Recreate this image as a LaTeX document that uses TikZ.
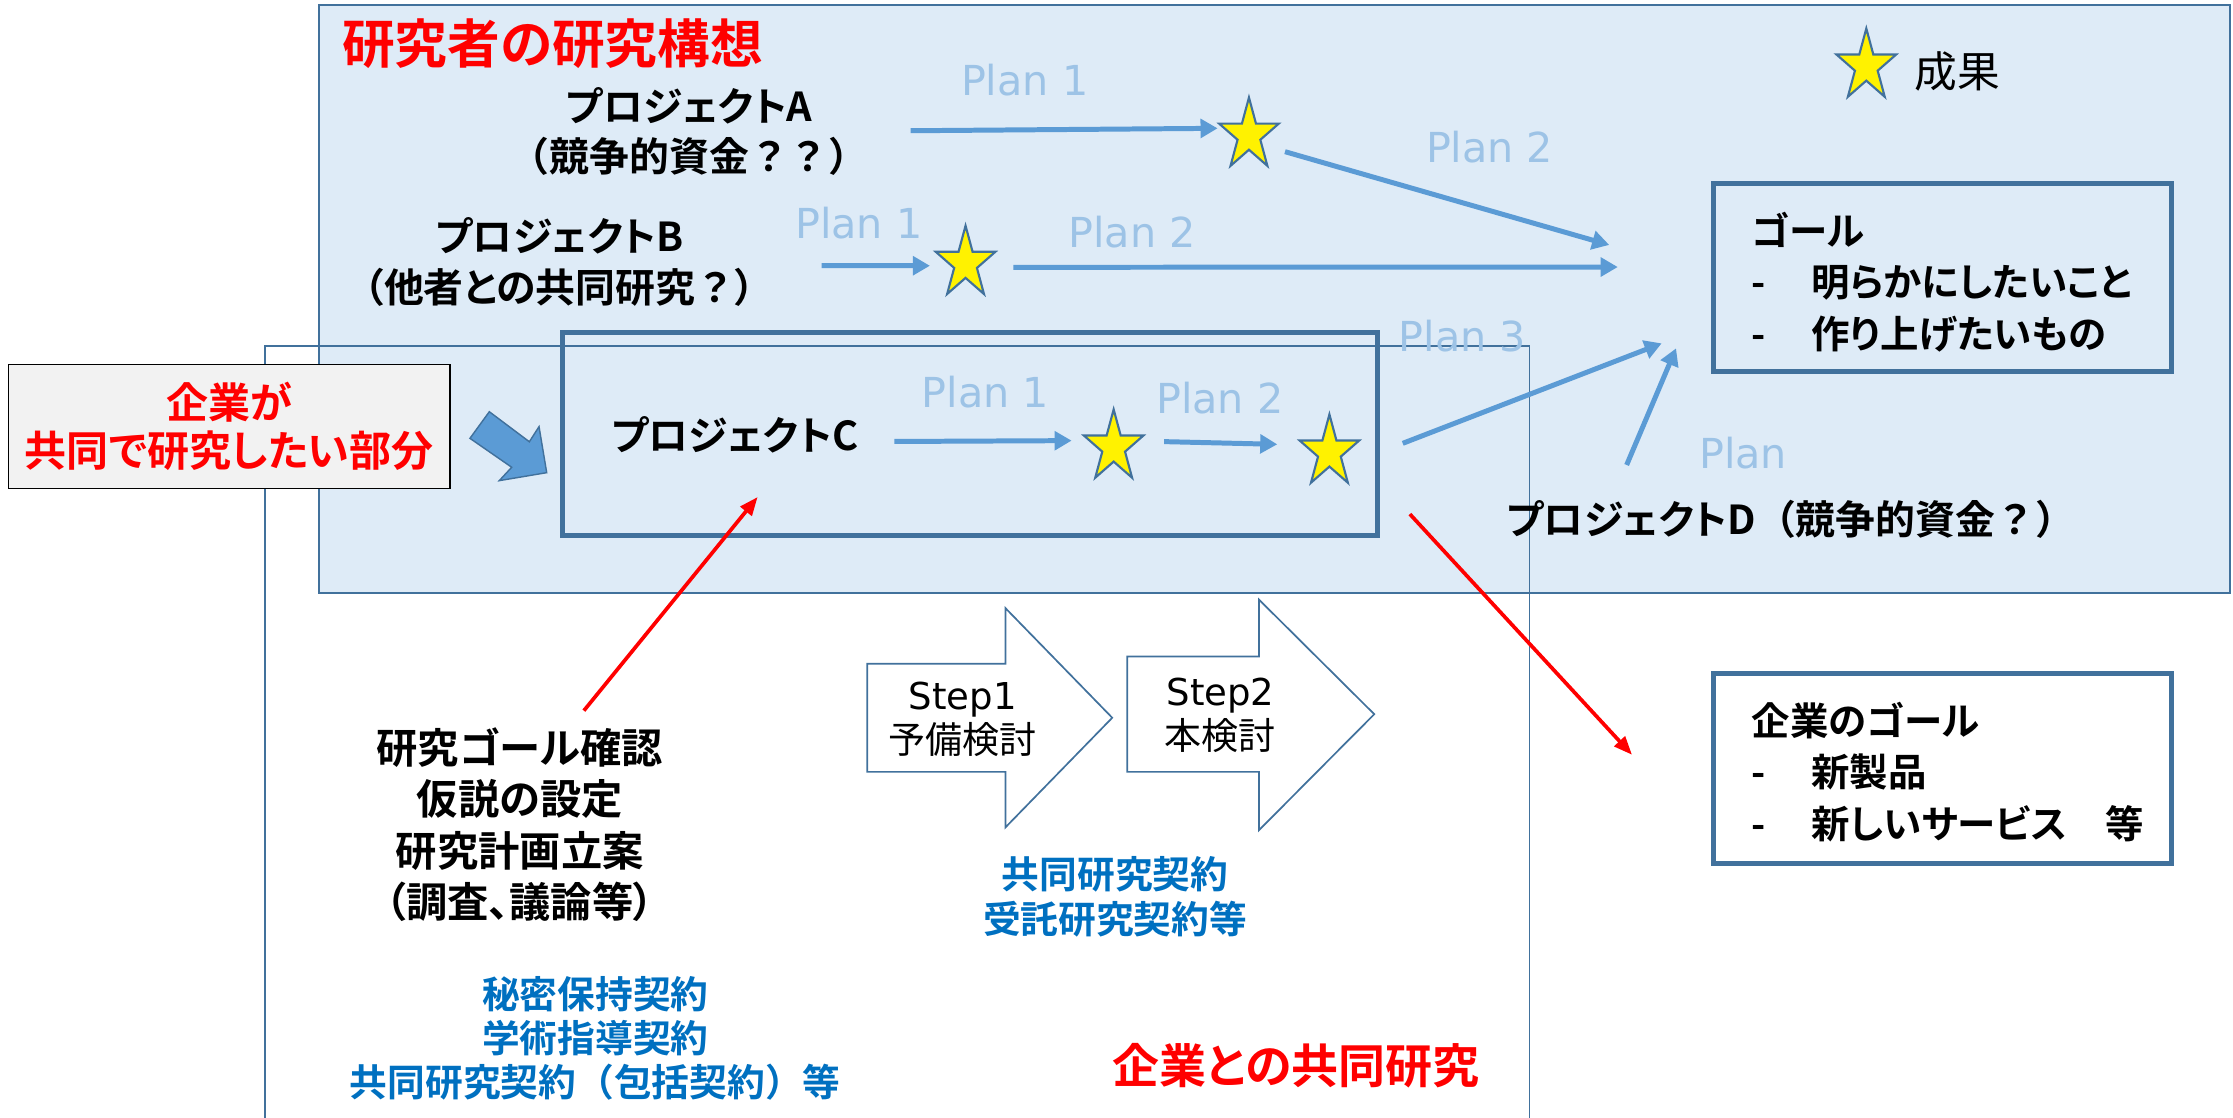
\documentclass[tikz,border=0pt]{standalone}
\usepackage{fontspec}
\usetikzlibrary{arrows.meta,shapes.geometric,calc}
\newfontfamily\jp{Noto Sans CJK JP}[BoldFont={Noto Sans CJK JP Bold},RawFeature=+palt]
\newfontfamily\jpf{Noto Sans CJK JP}[BoldFont={Noto Sans CJK JP Bold}]
\newfontfamily\lat{DejaVu Sans}
\definecolor{bgblue}{HTML}{DEEBF7}
\definecolor{edge}{HTML}{41719C}
\definecolor{arr}{HTML}{5B9BD5}
\definecolor{planc}{HTML}{9DC3E6}
\definecolor{cblue}{HTML}{0070C0}
\definecolor{lgray}{HTML}{F2F2F2}
\newcommand\fsz[2]{\fontsize{#1}{#2}\selectfont}
\begin{document}
\begin{tikzpicture}[x=1pt,y=-1pt,
  every node/.style={inner sep=0pt,outer sep=0pt},
  mystar/.style={star,star points=5,star point ratio=2.618,minimum size=53pt,
     fill=yellow,draw=edge,line width=1.5pt,xscale=0.83},
  flow/.style={draw=arr,line width=3.5pt,-{Triangle[length=12pt,width=13pt]}},
  redflow/.style={draw=red,line width=2.6pt,-{Triangle[length=13pt,width=10pt]}},
  plan/.style={text=planc,font=\lat\fsz{29}{34}},
  blk/.style 2 args={font=\jp\bfseries\fsz{#1}{#2}},
  frame/.style={draw=edge,line width=3.5pt},
  steparrow/.style={draw=edge,line width=1.2pt,fill=white},
]
\useasboundingbox (0,0) rectangle (1568,785);
% researcher's plan area
\node[draw=edge,fill=bgblue,line width=1.2pt,minimum width=1342pt,minimum height=413pt,anchor=north west] (plan) at (224,3.5) {};
% company joint research frame (open at bottom)
\draw[edge,line width=1pt] (186,790) -- (186,243) -- (1074,243) -- (1074,790);
% project C frame
\node[frame,minimum width=572pt,minimum height=142pt] (pc) at (681,304.8) {};
% goal boxes
\node[frame,minimum width=322pt,minimum height=132pt] (goal) at (1364,195) {};
\node[frame,fill=white,minimum width=322pt,minimum height=133pt] (cgoal) at (1364,539.5) {};

% title
\node[text=red,blk={37}{40}] (title) at (388,31) {研究者の研究構想};
% legend
\node[mystar] (sL) at (1310.5,46.5) {};
\node[font=\jp\fsz{30}{34}] (legend) at (1374.5,50) {成果};

% projects
\node[blk={28}{35},align=center] (pa) at (484,92.5) {プロジェクトA\\{\jpf\bfseries（競争的資金？？）}};
\node[blk={28}{36},align=center] (pb) at (393,184) {プロジェクトB\\（他者との共同研究{\jpf\bfseries ？}）};
\node[blk={28}{34}] (pctext) at (516,305) {プロジェクトC};
\node[blk={28}{34}] (pd) at (1257.5,365) {プロジェクトD{\jpf\bfseries（競争的資金？）}};

% stars
\node[mystar] (sA1) at (877,95) {};
\node[mystar] (sB) at (678,185) {};
\node[mystar] (sC1) at (782,314) {};
\node[mystar] (sC2) at (933.5,317.5) {};

% plan labels
\node[plan] (p1a) at (719.5,56.5) {Plan 1};
\node[plan] (p2a) at (1046,103) {Plan 2};
\node[plan] (p1b) at (603,156.5) {Plan 1};
\node[plan] (p2b) at (795,162.7) {Plan 2};
\node[plan] (p1c) at (692,275.5) {Plan 1};
\node[plan] (p2c) at (856.6,279.6) {Plan 2};
\node[plan] (p3c) at (1027,236) {Plan 3};
\node[plan] (pdl) at (1224,318) {Plan};

% free ends
\coordinate (a1s) at (639.5,91.8);
\coordinate (b1s) at (577,186.5);
\coordinate (c1s) at (628,310);
\coordinate (gA) at (1130,172);
\coordinate (gB) at (1136,187.5);
\coordinate (gC) at (1166.8,241.1);
\coordinate (gD) at (1176.9,244.6);
\coordinate (dS) at (1142.2,326.5);

% plan arrows
\draw[flow] (a1s) -- ($(sA1)+(-22,-4.9)$);
\draw[flow] ($(sA1)+(25.3,11.5)$) -- (gA);
\draw[flow] (b1s) -- ($(sB)+(-25,1.6)$);
\draw[flow] ($(sB)+(33.6,2.7)$) -- (gB);
\draw[flow] (c1s) -- ($(sC1)+(-29.5,-4.6)$);
\draw[flow] ($(sC1)+(35.4,-3.9)$) -- ($(sC2)+(-36.6,-5.5)$);
\draw[flow] ($(sC2)+(51.5,-6.2)$) -- (gC);
\draw[flow] (dS) -- (gD);

% goal text
\node[blk={27}{36},align=left,anchor=west] (goaltxt) at (1230,198)
  {ゴール\\\makebox[42pt][l]{-}明らかにしたいこと\\\makebox[42pt][l]{-}作り上げたいもの};
\node[blk={27}{36},align=left,anchor=west] (cgoaltxt) at (1230,542)
  {企業のゴール\\\makebox[42pt][l]{-}新製品\\\makebox[42pt][l]{-}新しいサービス　等};

% company box
\node[draw=black,fill=lgray,line width=1.2pt,minimum width=310pt,minimum height=87pt,
  align=center,text=red,blk={29.5}{34}] (kigyo) at (161,299.5) {企業が\\共同で研究したい部分};
% block arrow into project C
\filldraw[fill=arr,draw=edge,line width=1pt]
  (343.6,289.1) -- (371.7,310.2) -- (378.5,299.6) -- (383.9,331.9) -- (350.6,337.5) -- (359.3,328.1) -- (330.0,307.8) -- cycle;

% step arrows
\filldraw[steparrow] (609,466) -- (706,466) -- (706,427) -- (781,504) -- (706,581) -- (706,542) -- (609,542) -- cycle;
\filldraw[steparrow] (791.5,461) -- (884,461) -- (884,421) -- (965,501.5) -- (884,583) -- (884,542) -- (791.5,542) -- cycle;
\node[align=center,font=\jp\fsz{26}{31}] (st1) at (676,505) {{\lat Step1}\\予備検討};
\node[align=center,font=\jp\fsz{26}{31}] (st2) at (857,502.5) {{\lat Step2}\\本検討};

% left steps text
\node[blk={29}{36},align=center] (prep) at (365,579) {研究ゴール確認\\仮説の設定\\研究計画立案\\（調査、議論等）};
% contracts
\node[text=cblue,align=center,font=\jpf\bfseries\fsz{26.5}{31.5}] (contr) at (783,630) {共同研究契約\\受託研究契約等};
\node[text=cblue,align=center,font=\jpf\bfseries\fsz{26.5}{31}] (nda) at (418,729) {秘密保持契約\\学術指導契約\\共同研究契約（包括契約）等};
\node[text=red,blk={33}{36}] (joint) at (910,748) {企業との共同研究};

% red arrows
\coordinate (r1s) at (410,499);
\coordinate (r1e) at (532,349);
\coordinate (r2s) at (990,361);
\coordinate (r2e) at (1146,530);
\draw[redflow] (r1s) -- (r1e);
\draw[redflow] (r2s) -- (r2e);
\end{tikzpicture}
\end{document}
